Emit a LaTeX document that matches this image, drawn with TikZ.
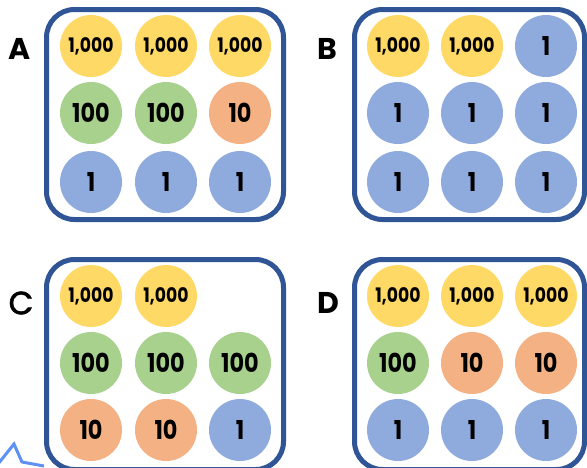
\documentclass[tikz,border=0pt]{standalone}
\usepackage{fontspec}
\setmainfont{Poppins}
\newfontfamily\numfont{Poppins}[FakeStretch=0.86]
\newfontfamily\medfont{Poppins}[FakeBold=2]
\definecolor{cyel}{HTML}{FFD966}
\definecolor{cgrn}{HTML}{A9D18E}
\definecolor{corg}{HTML}{F4B183}
\definecolor{cblu}{HTML}{8FAADC}
\definecolor{cbrd}{HTML}{2F5597}
\definecolor{cmark}{RGB}{95,145,245}
\begin{document}
\begin{tikzpicture}[x=1pt,y=-1pt,
  coin/.style={circle,minimum size=62pt,inner sep=0pt,text=black},
  thou/.style={coin,fill=cyel,font=\numfont\bfseries\fontsize{20}{20}\selectfont},
  hund/.style={coin,fill=cgrn,font=\numfont\bfseries\fontsize{26}{26}\selectfont},
  tens/.style={coin,fill=corg,font=\numfont\bfseries\fontsize{26}{26}\selectfont},
  ones/.style={coin,fill=cblu,font=\numfont\bfseries\fontsize{26}{26}\selectfont},
  panel/.style={draw=cbrd,line width=5pt,rounded corners=28pt},
  lab/.style={font=\bfseries\fontsize{30}{30}\selectfont,inner sep=0pt}]
\useasboundingbox (0,0) rectangle (587,467);
\fill[white] (0,0) rectangle (587,467);
% panels
\draw[panel] (46.5,9.5) rectangle (283.5,219.5);
\draw[panel] (354.5,9.5) rectangle (584.5,219.5);
\draw[panel] (46.5,259.5) rectangle (283.5,469.5);
\draw[panel] (354.5,259.5) rectangle (584.5,469.5);
% labels
\node[lab] (la) at (20,49) {A};
\node[lab] (lb) at (327,49) {B};
\node[lab,font=\medfont\fontsize{32}{32}\selectfont] (lc) at (21,303) {C};
\node[lab] (ld) at (328,303) {D};
% A
\node[thou] (a11) at (91,46) {1,000};
\node[thou] (a12) at (166,46) {1,000};
\node[thou] (a13) at (240,46) {1,000};
\node[hund] (a21) at (91,113) {100};
\node[hund] (a22) at (166,113) {100};
\node[tens] (a23) at (240,113) {10};
\node[ones] (a31) at (91,182) {1};
\node[ones] (a32) at (166,182) {1};
\node[ones] (a33) at (240,182) {1};
% B
\node[thou] (b11) at (398,46) {1,000};
\node[thou] (b12) at (472,46) {1,000};
\node[ones] (b13) at (546,46) {1};
\node[ones] (b21) at (398,113) {1};
\node[ones] (b22) at (472,113) {1};
\node[ones] (b23) at (546,113) {1};
\node[ones] (b31) at (398,182) {1};
\node[ones] (b32) at (472,182) {1};
\node[ones] (b33) at (546,182) {1};
% C
\node[thou] (c11) at (91,296) {1,000};
\node[thou] (c12) at (166,296) {1,000};
\node[hund] (c21) at (91,363) {100};
\node[hund] (c22) at (166,363) {100};
\node[hund] (c23) at (240,363) {100};
\node[tens] (c31) at (91,430) {10};
\node[tens] (c32) at (166,430) {10};
\node[ones] (c33) at (240,430) {1};
% D
\node[thou] (d11) at (398,296) {1,000};
\node[thou] (d12) at (472,296) {1,000};
\node[thou] (d13) at (546,296) {1,000};
\node[hund] (d21) at (398,363) {100};
\node[tens] (d22) at (472,363) {10};
\node[tens] (d23) at (546,363) {10};
\node[ones] (d31) at (398,430) {1};
\node[ones] (d32) at (472,430) {1};
\node[ones] (d33) at (546,430) {1};
% stray mark
\draw[cmark,line width=3pt,line join=miter] (-2,464) -- (14,444) -- (22,462) -- (44,466);
\end{tikzpicture}
\end{document}
